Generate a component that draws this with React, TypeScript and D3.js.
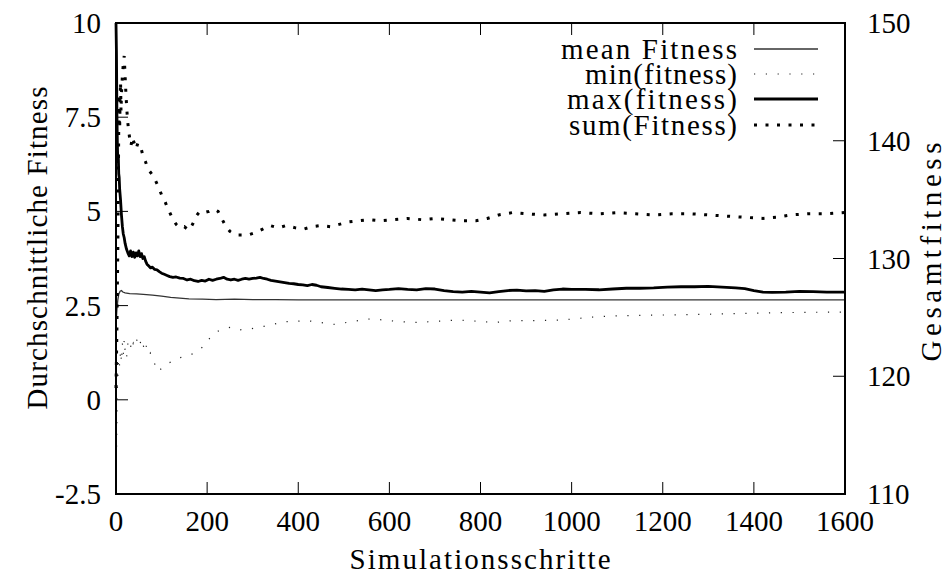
import React from 'react';
import * as d3 from 'd3';

type P = [number, number];

const xTicks = [0, 200, 400, 600, 800, 1000, 1200, 1400, 1600];
const yTicks = [-2.5, 0, 2.5, 5, 7.5, 10];
const y2Ticks = [110, 120, 130, 140, 150];

const legendLabels = ['mean Fitness', 'min(fitness)', 'max(fitness)', 'sum(Fitness)'];

const meanData: P[] = [
  [0, 2.0], [2, 2.4], [4, 2.65], [6, 2.8], [9, 2.88], [12, 2.9], [15, 2.86], [20, 2.84], [30, 2.82],
  [45, 2.81], [60, 2.8], [80, 2.78], [100, 2.75], [120, 2.72], [140, 2.7], [160, 2.68], [190, 2.67],
  [220, 2.66], [260, 2.67], [300, 2.66], [350, 2.66], [400, 2.65], [500, 2.65], [600, 2.65],
  [800, 2.65], [1000, 2.65], [1200, 2.65], [1400, 2.65], [1600, 2.65],
];

const minData: P[] = [
  [0, -3], [1, -1.5], [2, -0.5], [3, 0.3], [4, 0.6], [5, 0.9], [6, 1.1], [8, 0.9], [10, 1.3], [12, 1.0],
  [14, 1.5], [16, 1.2], [18, 1.6], [20, 1.3], [23, 1.1], [26, 1.5], [30, 1.6], [34, 1.3], [38, 1.5],
  [42, 1.4], [46, 1.6], [50, 1.7], [54, 1.5], [58, 1.6], [62, 1.3], [66, 1.45], [70, 1.2], [75, 1.25],
  [80, 1.1], [85, 0.95], [90, 0.8], [95, 0.75], [100, 0.85], [110, 0.95], [120, 1.0], [135, 1.1],
  [150, 1.15], [165, 1.2], [180, 1.3], [190, 1.4], [200, 1.55], [210, 1.7], [220, 1.8], [235, 1.88],
  [250, 1.92], [265, 1.85], [285, 1.87], [305, 1.9], [325, 1.95], [345, 2.0], [365, 2.07], [390, 2.08],
  [420, 2.1], [450, 2.05], [480, 2.0], [520, 2.08], [560, 2.15], [600, 2.1], [650, 2.05], [700, 2.08],
  [750, 2.12], [800, 2.08], [830, 2.05], [870, 2.1], [920, 2.1], [980, 2.12], [1050, 2.2], [1100, 2.23],
  [1150, 2.24], [1200, 2.25], [1300, 2.27], [1400, 2.3], [1500, 2.32], [1600, 2.33],
];

const maxData: P[] = [
  [0, 11], [1, 9.2], [2, 7.6], [3, 6.8], [4, 6.3], [5, 6.5], [6, 6.0], [7, 5.9], [8, 5.6], [10, 5.3],
  [12, 4.9], [14, 4.6], [16, 4.4], [18, 4.3], [20, 4.15], [23, 4.0], [26, 3.9], [29, 3.82], [32, 3.95],
  [35, 3.8], [38, 3.92], [41, 3.78], [44, 3.9], [47, 3.82], [50, 3.95], [53, 3.8], [56, 3.88], [59, 3.75],
  [62, 3.8], [65, 3.68], [68, 3.6], [72, 3.55], [76, 3.5], [80, 3.52], [85, 3.46], [90, 3.45], [95, 3.4],
  [100, 3.36], [106, 3.33], [112, 3.3], [118, 3.27], [125, 3.25], [132, 3.26], [140, 3.23], [148, 3.22],
  [156, 3.18], [164, 3.2], [172, 3.16], [180, 3.14], [188, 3.17], [196, 3.15], [204, 3.2], [212, 3.17],
  [220, 3.2], [228, 3.22], [236, 3.25], [244, 3.2], [252, 3.18], [260, 3.2], [268, 3.17], [276, 3.2],
  [284, 3.22], [292, 3.2], [300, 3.22], [308, 3.23], [316, 3.25], [324, 3.22], [332, 3.2], [340, 3.17],
  [350, 3.15], [360, 3.13], [370, 3.11], [380, 3.09], [390, 3.08], [400, 3.06], [410, 3.05], [420, 3.03],
  [430, 3.06], [440, 3.04], [450, 3.0], [465, 2.98], [480, 2.96], [495, 2.94], [510, 2.93], [525, 2.92],
  [540, 2.94], [555, 2.92], [570, 2.9], [585, 2.92], [600, 2.93], [620, 2.95], [640, 2.93], [660, 2.92],
  [680, 2.95], [700, 2.94], [720, 2.9], [740, 2.87], [760, 2.86], [780, 2.88], [800, 2.86], [820, 2.84],
  [840, 2.87], [860, 2.9], [880, 2.91], [900, 2.89], [920, 2.9], [940, 2.88], [960, 2.92], [980, 2.94],
  [1000, 2.93], [1030, 2.93], [1060, 2.92], [1090, 2.94], [1120, 2.96], [1150, 2.96], [1180, 2.97],
  [1210, 2.99], [1240, 3.0], [1270, 3.0], [1300, 3.01], [1330, 2.99], [1360, 2.97], [1380, 2.95],
  [1400, 2.9], [1420, 2.86], [1440, 2.85], [1470, 2.86], [1500, 2.88], [1530, 2.87], [1560, 2.86],
  [1600, 2.86],
];

const sumData: P[] = [
  [0, 119], [2, 124], [4, 131], [5, 136], [6, 141], [7, 144], [8, 141], [9, 143.5], [10, 145], [11, 142.5],
  [12, 144], [14, 145.5], [16, 146.5], [18, 147.2], [20, 145.5], [22, 143.8], [24, 142.5], [26, 141.5],
  [28, 140.8], [30, 140.2], [33, 139.6], [36, 140.3], [40, 139.8], [44, 139.3], [48, 139.8], [52, 139.6],
  [56, 139.2], [60, 138.6], [65, 138.2], [70, 137.6], [76, 137.3], [82, 137.0], [88, 136.5], [94, 136.0],
  [100, 135.4], [106, 135.0], [112, 134.4], [118, 133.9], [124, 133.4], [132, 132.9], [140, 132.6],
  [150, 132.7], [160, 132.4], [168, 132.9], [176, 133.6], [184, 134.0], [194, 133.9], [204, 134.0],
  [214, 134.2], [224, 134.0], [232, 133.4], [240, 132.8], [250, 132.3], [262, 132.0], [276, 132.0],
  [290, 132.0], [306, 132.2], [322, 132.5], [338, 132.8], [356, 132.6], [374, 132.8], [394, 132.6],
  [412, 132.5], [430, 132.7], [450, 132.8], [470, 132.7], [490, 132.9], [510, 133.1], [530, 133.2],
  [555, 133.3], [580, 133.2], [610, 133.3], [640, 133.4], [670, 133.3], [700, 133.4], [730, 133.3],
  [760, 133.2], [790, 133.2], [815, 133.4], [840, 133.7], [870, 133.9], [900, 133.8], [940, 133.7],
  [980, 133.8], [1020, 133.9], [1060, 133.8], [1100, 133.9], [1140, 133.8], [1180, 133.7], [1220, 133.8],
  [1260, 133.8], [1300, 133.7], [1340, 133.6], [1380, 133.5], [1420, 133.4], [1450, 133.5], [1480, 133.7],
  [1520, 133.8], [1560, 133.8], [1600, 133.9],
];

const FAM = 'Liberation Serif';

export default function App() {
  const W = 949, H = 575;
  const L = 116, R = 845, T = 23, B = 494;
  const x = d3.scaleLinear().domain([0, 1600]).range([L, R]);
  const y = d3.scaleLinear().domain([-2.5, 10]).range([B, T]);
  const y2 = d3.scaleLinear().domain([110, 150]).range([B, T]);
  const yc = y.copy().clamp(true);
  const y2c = y2.copy().clamp(true);
  const line = d3.line<P>().x(d => x(d[0])).y(d => yc(d[1]));
  const line2 = d3.line<P>().x(d => x(d[0])).y(d => y2c(d[1]));
  const fs = 29;
  const tickLen = 12;
  const legendRows = [49, 74, 99, 125];
  const legendTextLen = [176, 152, 170, 168];
  const legendStyles = [
    { stroke: '#333', strokeWidth: 1.3, dash: undefined as string | undefined },
    { stroke: '#222', strokeWidth: 1.2, dash: '1.2 10.6' },
    { stroke: '#000', strokeWidth: 2.8, dash: undefined },
    { stroke: '#000', strokeWidth: 3, dash: '3 8.5' },
  ];
  const ts = { fontFamily: `'${FAM}'`, fontSize: fs };
  return (
    <svg width={W} height={H} style={{ position: 'absolute', left: 0, top: 0 }}>
      {xTicks.map(t => (
        <text key={'xl' + t} x={x(t)} y={531} textAnchor="middle" style={ts}>{t}</text>
      ))}
      {yTicks.map(t => (
        <text key={'yl' + t} x={101} y={y(t) + 10} textAnchor="end" style={ts}>{t}</text>
      ))}
      {y2Ticks.map(t => (
        <text key={'y2l' + t} x={867} y={y2(t) + 10} textAnchor="start" style={ts}>{t}</text>
      ))}
      {legendLabels.map((lab, i) => (
        <text key={'lt' + lab} x={737} y={legendRows[i] + 10} textAnchor="end" style={ts}
          textLength={legendTextLen[i]} lengthAdjust="spacing">{lab}</text>
      ))}
      <text x={480} y={569} textAnchor="middle" style={ts}
        textLength={261} lengthAdjust="spacing">Simulationsschritte</text>
      <text transform="translate(47,248) rotate(-90)" textAnchor="middle" style={ts}
        textLength={323} lengthAdjust="spacing">Durchschnittliche Fitness</text>
      <text transform="translate(941,252) rotate(-90)" textAnchor="middle" style={ts}
        textLength={219} lengthAdjust="spacing">Gesamtfitness</text>

      {xTicks.map(t => (
        <g key={'xt' + t}>
          <line x1={x(t)} x2={x(t)} y1={B} y2={B - tickLen} stroke="#000" strokeWidth={1} />
          <line x1={x(t)} x2={x(t)} y1={T} y2={T + tickLen} stroke="#000" strokeWidth={1} />
        </g>
      ))}
      {yTicks.map(t => (
        <line key={'yt' + t} x1={L} x2={L + tickLen} y1={y(t)} y2={y(t)} stroke="#000" strokeWidth={1} />
      ))}
      {y2Ticks.map(t => (
        <line key={'y2t' + t} x1={R} x2={R - tickLen} y1={y2(t)} y2={y2(t)} stroke="#000" strokeWidth={1} />
      ))}
      <g fill="none">
        <path d={line(meanData) || ''} stroke="#333" strokeWidth={1.3} />
        <path d={line(minData) || ''} stroke="#222" strokeWidth={1.2} strokeDasharray="1.2 10.6" />
        <path d={line(maxData) || ''} stroke="#000" strokeWidth={2.8} strokeLinejoin="round" />
        <path d={line2(sumData) || ''} stroke="#000" strokeWidth={3} strokeDasharray="3 8.5" />
      </g>
      <rect x={L} y={T} width={R - L} height={B - T} fill="none" stroke="#000" strokeWidth={2} />
      {legendLabels.map((lab, i) => (
        <line key={'ll' + lab} x1={754} x2={818} y1={legendRows[i]} y2={legendRows[i]}
          stroke={legendStyles[i].stroke} strokeWidth={legendStyles[i].strokeWidth}
          strokeDasharray={legendStyles[i].dash} />
      ))}
    </svg>
  );
}
